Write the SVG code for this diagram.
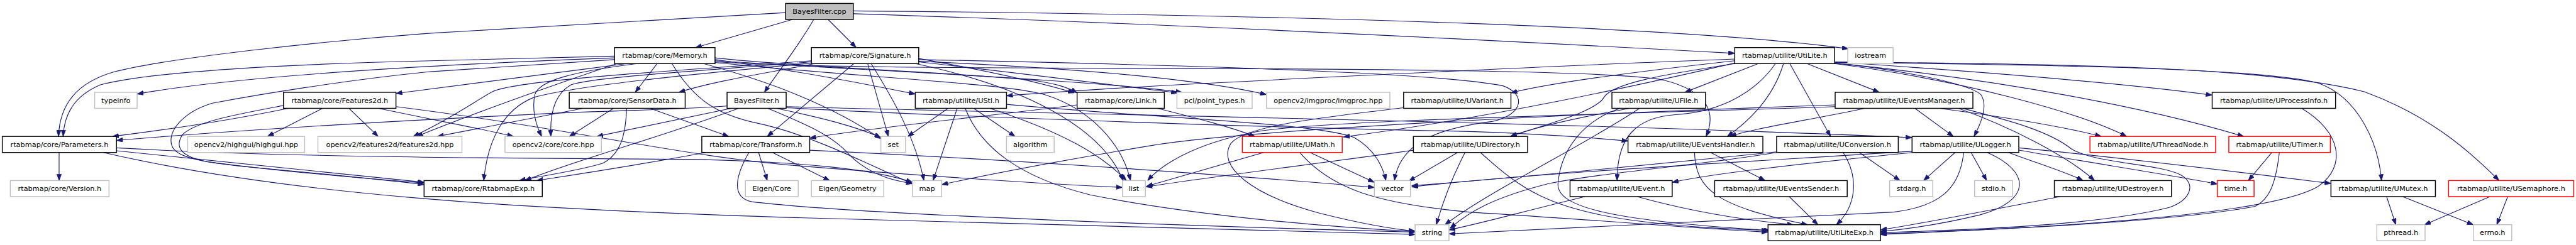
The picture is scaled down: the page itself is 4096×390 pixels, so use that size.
<svg xmlns="http://www.w3.org/2000/svg" width="4096" height="390" viewBox="0 0 4096 390">
<style>
.n rect{fill:#fff;stroke:#000;stroke-width:1.6}
.g rect{stroke:#bfbfbf}
.r rect{stroke:#ff0000}
.root rect{fill:#bfbfbf}
text{font-family:"DejaVu Sans","Liberation Sans",sans-serif;font-size:12.4px;text-anchor:middle;fill:#000}
#edges path{fill:none;stroke:#191970;stroke-width:1.25;marker-end:url(#a)}
</style>
<defs>
<marker id="a" markerUnits="userSpaceOnUse" markerWidth="11" markerHeight="8" viewBox="0 0 11 8" refX="11" refY="4" orient="auto"><path d="M0,0L11,4L0,8z" fill="#191970" stroke="#191970" stroke-width="0.8"/></marker>
</defs>
<rect width="4096" height="390" fill="#fff"/>
<g transform="scale(0.91245)">
<g id="edges">
<path d="M1369,22 C1100,38 900,50 750,58 C560,72 300,100 200,125 C130,145 104,185 102,238"/>
<path d="M1381,34 L1212,83"/>
<path d="M1418,34 C1395,75 1360,120 1332,161"/>
<path d="M1443,34 L1492,83"/>
<path d="M1487,24 C2000,40 2600,70 3023,93"/>
<path d="M1487,19 C2300,26 2950,48 3221,85"/>
<path d="M1071,98 L750,106 C500,112 260,125 175,148 C128,168 112,200 110,238"/>
<path d="M1071,101 C700,115 400,135 239,164"/>
<path d="M1071,104 L750,125 C600,140 450,165 370,180 C320,195 298,225 298,245 C298,268 320,280 430,291 C560,303 680,315 739,322"/>
<path d="M1092,111 C950,130 800,148 690,163"/>
<path d="M1075,111 C960,150 820,200 726,238"/>
<path d="M1110,111 C1000,125 940,140 932,165 C926,195 935,220 944,238"/>
<path d="M1145,111 L1107,161"/>
<path d="M1171,111 C1210,175 1250,200 1320,215 C1400,232 1480,270 1590,321"/>
<path d="M1226,111 C1350,145 1450,185 1535,242"/>
<path d="M1246,104 C1400,125 1500,145 1595,164"/>
<path d="M1246,101 C1400,118 1650,125 1800,140 C1840,146 1860,152 1877,162"/>
<path d="M1246,109 C1500,135 1750,145 1820,165 C1900,190 1955,250 1970,315"/>
<path d="M1246,106 C1550,125 1900,140 2060,161"/>
<path d="M1246,108 C1450,120 1800,118 2200,120 C2600,122 2850,128 2900,140 C2980,160 2990,200 2973,238"/>
<path d="M1414,110 C1200,130 1000,150 930,170 C880,190 850,240 843,315"/>
<path d="M1414,106 C1150,125 900,140 858,160 C830,175 790,205 720,238"/>
<path d="M1414,108 C1200,125 1030,135 995,148 C965,165 958,200 960,238"/>
<path d="M1420,111 C1350,125 1250,140 1183,161"/>
<path d="M1488,111 L1337,238"/>
<path d="M1512,111 L1548,238"/>
<path d="M1518,111 C1555,170 1595,240 1610,315"/>
<path d="M1595,111 C1780,150 1920,220 1957,315"/>
<path d="M1601,104 C2000,112 2500,125 2620,150 C2660,165 2655,200 2600,212 C2500,225 2440,250 2430,315"/>
<path d="M1601,102 C1700,120 1800,140 1872,162"/>
<path d="M1601,108 C1800,130 1950,150 2052,162"/>
<path d="M1601,107 C1900,120 2100,140 2207,165"/>
<path d="M1016,189 L762,238"/>
<path d="M1069,189 L992,238"/>
<path d="M1092,189 C1090,240 1080,270 1050,285 C1000,300 935,308 905,315"/>
<path d="M1133,189 L1270,238"/>
<path d="M1267,185 C1200,190 1100,193 1000,196 C700,210 400,228 203,245"/>
<path d="M1274,189 L1040,238"/>
<path d="M1287,189 C1150,240 1000,280 915,315"/>
<path d="M1353,189 C1430,205 1490,220 1535,240"/>
<path d="M1338,189 C1400,215 1450,235 1480,270 C1510,300 1550,315 1590,320"/>
<path d="M1370,186 C1700,196 2700,212 3332,240"/>
<path d="M1370,188 C1700,205 2200,222 2500,228 C2650,231 2750,238 2837,246"/>
<path d="M502,189 C400,210 300,225 196,238"/>
<path d="M494,184 C420,198 340,212 318,235 C305,255 312,272 360,282 C480,298 640,312 739,319"/>
<path d="M562,189 L466,238"/>
<path d="M608,189 L659,238"/>
<path d="M660,189 C760,210 840,225 895,238"/>
<path d="M690,186 C1000,225 1200,275 1400,290 C1650,310 1850,322 1956,327"/>
<path d="M1230,266 C1100,290 1000,305 935,315"/>
<path d="M1322,266 L1337,315"/>
<path d="M1346,266 L1446,315"/>
<path d="M1305,266 C1280,310 1275,345 1310,352 C1500,375 2100,395 2466,405"/>
<path d="M1411,262 C1800,280 2200,310 2395,327"/>
<path d="M103,266 L103,315"/>
<path d="M203,263 L739,318"/>
<path d="M180,266 C500,340 900,365 1400,380 C1900,392 2250,400 2466,409"/>
<path d="M203,258 C500,275 900,276 1200,278 C1400,282 1520,295 1590,318"/>
<path d="M1652,189 L1582,238"/>
<path d="M1668,189 L1626,315"/>
<path d="M1697,189 L1769,238"/>
<path d="M1725,189 C1850,230 1920,270 1963,315"/>
<path d="M1682,189 C1710,260 1780,310 1900,340 C2100,380 2350,398 2466,404"/>
<path d="M1754,182 C2000,205 2300,215 2360,240 C2395,260 2410,290 2415,315"/>
<path d="M1877,183 C1700,205 1500,225 1411,241"/>
<path d="M2017,189 C2080,205 2140,220 2187,238"/>
<path d="M2202,266 L1998,325"/>
<path d="M2283,266 L2395,318"/>
<path d="M2265,266 C2320,330 2400,355 2560,370 C2800,385 2950,398 3081,405"/>
<path d="M2540,266 L2455,316"/>
<path d="M2553,266 C2530,310 2515,350 2503,392"/>
<path d="M2463,262 C2300,285 2100,310 1997,326"/>
<path d="M2580,266 C2650,330 2700,365 2850,385 C2950,398 3030,400 3081,402"/>
<path d="M2446,188 C2300,205 2170,220 2145,250 C2120,290 2180,340 2300,372 C2380,392 2430,400 2466,403"/>
<path d="M2857,189 C2750,260 2600,330 2518,392"/>
<path d="M2840,189 C2750,205 2680,220 2632,238"/>
<path d="M2823,189 C2760,210 2720,260 2715,320 C2712,360 2800,385 3085,402"/>
<path d="M3250,189 C3150,210 3050,225 3015,238"/>
<path d="M3337,189 L3404,238"/>
<path d="M3380,189 C3500,205 3600,222 3662,238"/>
<path d="M3413,189 C3500,220 3600,270 3650,315"/>
<path d="M3420,189 C3500,210 3570,228 3610,260 C3650,285 3760,285 3800,305 C3830,322 3815,350 3780,362 C3650,395 3400,402 3277,406"/>
<path d="M3198,183 C2700,200 2150,228 2000,255 C1850,280 1720,305 1641,322"/>
<path d="M3198,186 C2800,200 2350,208 2200,228 C2100,245 2030,280 2000,315"/>
<path d="M3407,266 L3352,315"/>
<path d="M3435,266 L3462,315"/>
<path d="M3463,266 C3540,300 3540,350 3450,375 C3380,392 3320,400 3277,404"/>
<path d="M3422,266 C3415,330 3380,360 3300,370 C3000,385 2700,400 2525,408"/>
<path d="M3332,266 C3150,285 3000,300 2914,318"/>
<path d="M3332,264 C3000,285 2700,300 2460,326"/>
<path d="M3500,266 C3550,285 3600,300 3630,315"/>
<path d="M3518,262 C3650,285 3780,305 3864,321"/>
<path d="M3518,258 C3700,275 3900,300 4062,320"/>
<path d="M3096,265 C2900,285 2650,310 2460,324"/>
<path d="M3096,266 C2950,290 2800,300 2700,320 C2600,345 2560,370 2527,398"/>
<path d="M3240,266 L3311,315"/>
<path d="M3212,266 C3240,310 3235,360 3200,392"/>
<path d="M2981,266 L3076,315"/>
<path d="M2953,266 C2955,330 2990,360 3150,392"/>
<path d="M2762,343 C2650,370 2580,390 2525,401"/>
<path d="M2853,343 C2950,370 3050,385 3125,392"/>
<path d="M3118,343 L3168,392"/>
<path d="M3959,266 L3918,315"/>
<path d="M3972,266 C3965,330 3950,350 3930,360 C3800,385 3500,400 3277,408"/>
<path d="M4011,189 C4080,230 4090,290 4040,325 C3950,380 3500,400 3277,409"/>
<path d="M3590,343 C3450,370 3350,390 3277,401"/>
<path d="M4159,343 L4175,392"/>
<path d="M4187,343 L4310,392"/>
<path d="M4339,343 L4225,392"/>
<path d="M4370,343 L4351,392"/>
<path d="M3023,103 C2700,115 2300,135 2150,143 C1950,152 1850,160 1754,167"/>
<path d="M3023,110 C2850,150 2600,205 2341,239"/>
<path d="M3023,106 C2850,125 2700,145 2633,162"/>
<path d="M3023,111 C2900,130 2810,145 2795,170 C2780,195 2700,215 2632,238"/>
<path d="M3064,111 L2936,161"/>
<path d="M3094,111 C3060,160 3000,195 2920,200 C2850,205 2818,240 2818,315"/>
<path d="M3108,111 C3090,170 3050,210 3010,238"/>
<path d="M3119,111 L3190,238"/>
<path d="M3149,111 L3275,161"/>
<path d="M3197,110 C3300,120 3430,145 3452,165 C3465,185 3452,215 3440,238"/>
<path d="M3197,111 C3420,140 3620,195 3706,238"/>
<path d="M3197,110 C3500,140 3750,190 3910,238"/>
<path d="M3197,108 C3450,125 3700,145 3855,166"/>
<path d="M3197,109 C3600,113 3950,120 4040,145 C4110,170 4145,250 4150,315"/>
<path d="M3197,108 C3650,112 3950,118 4120,160 C4230,200 4300,260 4355,315"/>
</g>
<g id="n_bayesfilter_cpp" class="n root"><rect x="1369" y="6" width="118" height="28"/><text x="1428" y="24.3">BayesFilter.cpp</text></g>
<g id="n_memory" class="n"><rect x="1071" y="83" width="175" height="28"/><text x="1158.5" y="101.3">rtabmap/core/Memory.h</text></g>
<g id="n_signature" class="n"><rect x="1414" y="83" width="187" height="28"/><text x="1507.5" y="101.3">rtabmap/core/Signature.h</text></g>
<g id="n_utilite" class="n"><rect x="3023" y="83" width="174" height="28"/><text x="3110" y="101.3">rtabmap/utilite/UtiLite.h</text></g>
<g id="n_iostream" class="n g"><rect x="3220" y="83" width="79" height="28"/><text x="3259.5" y="101.3">iostream</text></g>
<g id="n_typeinfo" class="n g"><rect x="165" y="161" width="74" height="28"/><text x="202" y="179.3">typeinfo</text></g>
<g id="n_features2d_h" class="n"><rect x="494" y="161" width="196" height="28"/><text x="592" y="179.3">rtabmap/core/Features2d.h</text></g>
<g id="n_sensordata" class="n"><rect x="992" y="161" width="202" height="28"/><text x="1093" y="179.3">rtabmap/core/SensorData.h</text></g>
<g id="n_bayesfilter_h" class="n"><rect x="1267" y="161" width="103" height="28"/><text x="1318.5" y="179.3">BayesFilter.h</text></g>
<g id="n_ustl" class="n"><rect x="1595" y="161" width="159" height="28"/><text x="1674.5" y="179.3">rtabmap/utilite/UStl.h</text></g>
<g id="n_link" class="n"><rect x="1877" y="161" width="152" height="28"/><text x="1953" y="179.3">rtabmap/core/Link.h</text></g>
<g id="n_pcl" class="n g"><rect x="2051" y="161" width="131" height="28"/><text x="2116.5" y="179.3">pcl/point_types.h</text></g>
<g id="n_imgproc" class="n g"><rect x="2207" y="161" width="215" height="28"/><text x="2314.5" y="179.3">opencv2/imgproc/imgproc.hpp</text></g>
<g id="n_uvariant" class="n"><rect x="2446" y="161" width="187" height="28"/><text x="2539.5" y="179.3">rtabmap/utilite/UVariant.h</text></g>
<g id="n_ufile" class="n"><rect x="2809" y="161" width="163" height="28"/><text x="2890.5" y="179.3">rtabmap/utilite/UFile.h</text></g>
<g id="n_ueventsmanager" class="n"><rect x="3198" y="161" width="240" height="28"/><text x="3318" y="179.3">rtabmap/utilite/UEventsManager.h</text></g>
<g id="n_uprocessinfo" class="n"><rect x="3855" y="161" width="215" height="28"/><text x="3962.5" y="179.3">rtabmap/utilite/UProcessInfo.h</text></g>
<g id="n_parameters" class="n"><rect x="4" y="238" width="199" height="28"/><text x="103.5" y="256.3">rtabmap/core/Parameters.h</text></g>
<g id="n_highgui" class="n g"><rect x="327" y="238" width="204" height="28"/><text x="429" y="256.3">opencv2/highgui/highgui.hpp</text></g>
<g id="n_features2d_hpp" class="n g"><rect x="554" y="238" width="251" height="28"/><text x="679.5" y="256.3">opencv2/features2d/features2d.hpp</text></g>
<g id="n_core_hpp" class="n g"><rect x="880" y="238" width="168" height="28"/><text x="964" y="256.3">opencv2/core/core.hpp</text></g>
<g id="n_transform" class="n"><rect x="1223" y="238" width="188" height="28"/><text x="1317" y="256.3">rtabmap/core/Transform.h</text></g>
<g id="n_set" class="n g"><rect x="1535" y="238" width="43" height="28"/><text x="1556.5" y="256.3">set</text></g>
<g id="n_algorithm" class="n g"><rect x="1754" y="238" width="83" height="28"/><text x="1795.5" y="256.3">algorithm</text></g>
<g id="n_umath" class="n r"><rect x="2165" y="238" width="174" height="28"/><text x="2252" y="256.3">rtabmap/utilite/UMath.h</text></g>
<g id="n_udirectory" class="n"><rect x="2463" y="238" width="199" height="28"/><text x="2562.5" y="256.3">rtabmap/utilite/UDirectory.h</text></g>
<g id="n_ueventshandler" class="n"><rect x="2837" y="238" width="235" height="28"/><text x="2954.5" y="256.3">rtabmap/utilite/UEventsHandler.h</text></g>
<g id="n_uconversion" class="n"><rect x="3096" y="238" width="212" height="28"/><text x="3202" y="256.3">rtabmap/utilite/UConversion.h</text></g>
<g id="n_ulogger" class="n"><rect x="3332" y="238" width="186" height="28"/><text x="3425" y="256.3">rtabmap/utilite/ULogger.h</text></g>
<g id="n_uthreadnode" class="n r"><rect x="3642" y="238" width="219" height="28"/><text x="3751.5" y="256.3">rtabmap/utilite/UThreadNode.h</text></g>
<g id="n_utimer" class="n r"><rect x="3884" y="238" width="177" height="28"/><text x="3972.5" y="256.3">rtabmap/utilite/UTimer.h</text></g>
<g id="n_version" class="n g"><rect x="18" y="315" width="172" height="28"/><text x="104" y="333.3">rtabmap/core/Version.h</text></g>
<g id="n_rtabmapexp" class="n"><rect x="739" y="315" width="206" height="28"/><text x="842" y="333.3">rtabmap/core/RtabmapExp.h</text></g>
<g id="n_eigen_core" class="n g"><rect x="1299" y="315" width="92" height="28"/><text x="1345" y="333.3">Eigen/Core</text></g>
<g id="n_eigen_geometry" class="n g"><rect x="1414" y="315" width="126" height="28"/><text x="1477" y="333.3">Eigen/Geometry</text></g>
<g id="n_map" class="n g"><rect x="1590" y="315" width="51" height="28"/><text x="1615.5" y="333.3">map</text></g>
<g id="n_list" class="n g"><rect x="1956" y="315" width="40" height="28"/><text x="1976" y="333.3">list</text></g>
<g id="n_vector" class="n g"><rect x="2395" y="315" width="63" height="28"/><text x="2426.5" y="333.3">vector</text></g>
<g id="n_uevent" class="n"><rect x="2736" y="315" width="178" height="28"/><text x="2825" y="333.3">rtabmap/utilite/UEvent.h</text></g>
<g id="n_ueventssender" class="n"><rect x="2988" y="315" width="231" height="28"/><text x="3103.5" y="333.3">rtabmap/utilite/UEventsSender.h</text></g>
<g id="n_stdarg" class="n g"><rect x="3293" y="315" width="75" height="28"/><text x="3330.5" y="333.3">stdarg.h</text></g>
<g id="n_stdio" class="n g"><rect x="3441" y="315" width="66" height="28"/><text x="3474" y="333.3">stdio.h</text></g>
<g id="n_udestroyer" class="n"><rect x="3580" y="315" width="204" height="28"/><text x="3682" y="333.3">rtabmap/utilite/UDestroyer.h</text></g>
<g id="n_time" class="n r"><rect x="3864" y="315" width="64" height="28"/><text x="3896" y="333.3">time.h</text></g>
<g id="n_umutex" class="n"><rect x="4062" y="315" width="182" height="28"/><text x="4153" y="333.3">rtabmap/utilite/UMutex.h</text></g>
<g id="n_usemaphore" class="n r"><rect x="4267" y="315" width="218" height="28"/><text x="4376" y="333.3">rtabmap/utilite/USemaphore.h</text></g>
<g id="n_string" class="n g"><rect x="2466" y="392" width="59" height="28"/><text x="2495.5" y="410.3">string</text></g>
<g id="n_utiliteexp" class="n"><rect x="3081" y="392" width="196" height="28"/><text x="3179" y="410.3">rtabmap/utilite/UtiLiteExp.h</text></g>
<g id="n_pthread" class="n g"><rect x="4142" y="392" width="84" height="28"/><text x="4184" y="410.3">pthread.h</text></g>
<g id="n_errno" class="n g"><rect x="4310" y="392" width="67" height="28"/><text x="4343.5" y="410.3">errno.h</text></g>
</g>
</svg>
